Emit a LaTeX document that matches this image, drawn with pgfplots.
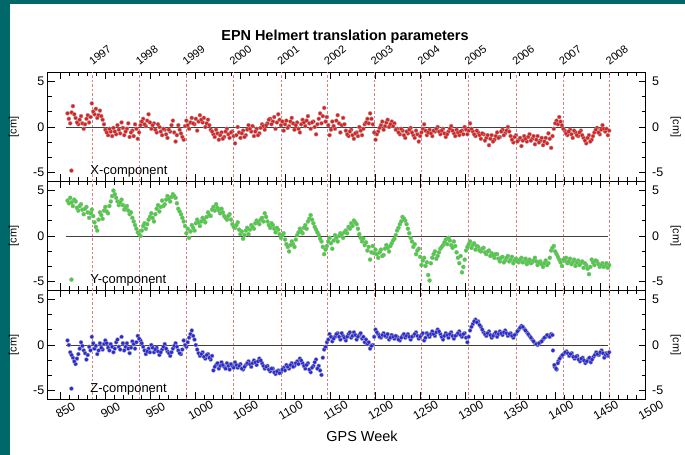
\documentclass[border=0pt]{standalone}
\usepackage{pgfplots}
\usepackage{pgfplotstable}
\pgfplotsset{compat=1.18}
\usepackage{fontspec}
\setmainfont{Liberation Sans}
\definecolor{frameteal}{RGB}{0,104,104}
\definecolor{ptred}{RGB}{228,30,30}
\definecolor{ptgreen}{RGB}{60,215,50}
\definecolor{ptblue}{RGB}{40,40,225}
\definecolor{yeardash}{RGB}{215,130,130}

% w = GPS week, v = value at w, u = value at w+1.5
\pgfplotstableread{
w v u
858 1.5 0.9
861 0.4 1.6
864 2.3 1.4
867 1.0 0.5
870 0.3 0.8
873 1.2 0.4
876 -0.2 0.3
879 0.9 1.3
882 0.5 1.1
885 2.6 1.7
888 1.4 2.0
891 1.0 1.3
894 1.8 1.2
897 0.8 0.3
900 -0.3 -0.6
903 -0.9 -0.2
906 -0.5 -1.0
909 -0.1 -0.5
912 -0.8 0.2
915 -0.3 -0.7
918 0.5 -0.1
921 -0.9 -0.5
924 -0.2 0.4
927 -1.1 -0.6
930 -0.4 -1.0
933 0.3 -0.2
936 -1.3 -0.6
939 0.2 0.6
942 0.9 0.3
945 0.1 0.7
948 1.4 0.5
951 -0.2 0.2
954 0.4 -0.3
957 -0.6 0.3
960 0.0 -0.5
963 -0.9 -0.2
966 -0.3 -0.8
969 -1.2 -0.3
972 -0.5 0.2
975 0.7 -0.6
978 -1.6 -0.9
981 0.2 -0.3
984 -0.7 -1.1
987 -1.4 0.1
990 0.7 0.2
993 -0.2 0.5
996 1.0 0.4
999 0.3 0.9
1002 -0.4 0.6
1005 1.3 0.8
1008 0.5 1.0
1011 0.0 0.4
1014 0.8 0.2
1017 -0.3 -0.5
1020 -0.8 -1.1
1023 -0.3 -0.7
1026 -1.4 -0.9
1029 -0.6 -1.3
1032 -1.1 -0.5
1035 -0.2 -0.8
1038 -1.2 -0.6
1041 -0.5 -1.0
1044 -1.8 -0.9
1047 0.0 -0.6
1050 -1.2 -0.7
1053 -0.4 -1.1
1056 -0.9 -0.3
1059 0.2 -0.2
1062 -0.5 0.1
1065 -1.0 -0.5
1068 -0.2 -0.9
1071 -0.7 -0.1
1074 0.3 0.1
1077 -0.3 0.2
1080 0.4 0.8
1083 0.9 0.3
1086 0.6 1.1
1089 -0.2 0.5
1092 1.4 0.8
1095 0.2 0.6
1098 -0.4 0.3
1101 0.7 -0.1
1104 0.1 0.6
1107 1.0 0.4
1110 -0.3 0.2
1113 0.5 -0.2
1116 -0.6 0.3
1119 0.8 0.5
1122 0.1 0.7
1125 1.2 0.4
1128 -0.2 0.5
1131 0.6 0.0
1134 -0.8 0.3
1137 0.9 1.5
1140 0.4 1.2
1143 2.1 0.6
1146 1.1 0.2
1149 -0.9 -0.3
1152 0.6 0.1
1155 -0.2 0.7
1158 1.3 0.4
1161 -0.6 0.2
1164 1.0 0.3
1167 -0.4 -0.8
1170 -1.0 -0.5
1173 -0.3 -0.9
1176 -1.3 -0.7
1179 -0.6 -1.0
1182 0.0 -0.4
1185 -0.9 -0.2
1188 0.3 0.5
1191 0.9 0.4
1194 1.5 0.9
1197 0.3 -0.6
1200 -1.4 -0.8
1203 -0.5 -0.1
1206 0.2 0.6
1209 -0.3 0.1
1212 0.5 0.8
1215 0.0 0.3
1218 0.6 0.1
1221 0.4 -0.3
1224 -0.2 -0.6
1227 -0.8 -0.2
1230 -0.4 -0.9
1233 -1.2 -0.5
1236 -0.7 -0.3
1239 -0.1 -0.6
1242 -0.9 -1.2
1245 -0.4 -0.8
1248 -1.6 -1.0
1251 -0.6 -0.2
1254 0.3 -0.4
1257 -0.9 -0.6
1260 -0.3 -0.7
1263 -1.0 -0.4
1266 -0.5 -0.2
1269 0.0 -0.5
1272 -0.8 -0.4
1275 -0.2 -0.7
1278 -1.1 -0.8
1281 -0.5 -0.2
1284 0.1 -0.4
1287 -0.7 -1.0
1290 -0.3 -0.6
1293 -0.9 -0.5
1296 -0.4 -0.8
1299 0.0 -0.3
1302 -0.8 -0.4
1305 0.4 -0.2
1308 -0.5 -0.8
1311 -1.0 -0.4
1314 -0.6 -0.9
1317 -1.3 -0.7
1320 -0.8 -1.5
1323 -1.2 -0.9
1326 -2.0 -1.3
1329 -0.9 -1.6
1332 -1.4 -1.0
1335 -0.6 -1.2
1338 -1.1 -0.5
1341 -0.3 -0.9
1344 -0.7 -0.4
1347 0.0 -0.5
1350 -1.0 -1.4
1353 -1.7 -1.1
1356 -0.9 -1.6
1359 -1.4 -1.2
1362 -2.1 -1.5
1365 -1.0 -1.3
1368 -1.6 -1.1
1371 -0.8 -1.5
1374 -1.3 -1.0
1377 -1.9 -1.4
1380 -1.0 -1.7
1383 -1.5 -1.2
1386 -2.0 -1.6
1389 -1.2 -1.8
1392 -0.7 -1.3
1395 -2.3 -1.0
1398 -0.2 0.4
1401 0.7 0.3
1404 1.1 0.6
1407 0.2 -0.2
1410 -0.4 -0.7
1413 -0.9 -0.5
1416 -0.3 -0.8
1419 -1.2 -0.4
1422 -0.6 -0.9
1425 -1.0 -0.6
1428 -0.4 -0.9
1431 -1.2 -1.5
1434 -1.8 -1.2
1437 -0.9 -1.6
1440 -1.4 -1.0
1443 -0.6 -0.3
1446 -0.1 -0.6
1449 -0.8 -0.3
1452 0.2 -0.2
1455 -0.5 -0.2
1458 -0.9 -0.4
}\xdata

\pgfplotstableread{
w v u
858 3.9 3.6
861 4.2 3.7
864 3.3 4.0
867 3.8 3.1
870 2.8 3.3
873 3.5 2.9
876 2.4 3.0
879 3.2 2.6
882 2.0 2.5
885 2.9 2.2
888 1.5 1.0
891 0.6 1.8
894 2.6 2.3
897 1.9 2.8
900 3.2 2.7
903 2.5 3.3
906 3.8 4.4
909 5.0 4.6
912 4.2 3.8
915 3.4 3.7
918 4.0 3.4
921 2.9 3.1
924 3.3 2.8
927 2.4 2.6
930 2.0 1.6
933 1.2 0.8
936 0.4 0.2
939 0.0 0.6
942 1.1 1.4
945 0.8 1.3
948 1.8 2.1
951 2.5 2.0
954 1.6 2.4
957 3.0 3.4
960 2.7 3.2
963 3.9 3.3
966 3.5 4.0
969 4.4 4.1
972 3.8 4.3
975 4.6 4.4
978 4.2 3.6
981 3.0 2.7
984 2.4 2.0
987 1.6 1.1
990 0.3 0.8
993 -0.2 0.5
996 1.2 0.9
999 0.6 1.4
1002 1.8 1.5
1005 1.1 1.6
1008 2.0 1.8
1011 1.5 2.1
1014 2.6 2.3
1017 2.2 2.9
1020 3.2 2.8
1023 3.5 3.1
1026 2.8 2.5
1029 3.0 2.6
1032 2.2 2.0
1035 1.8 2.2
1038 2.4 1.8
1041 1.3 1.0
1044 0.9 1.2
1047 1.5 0.7
1050 0.2 0.5
1053 -0.3 0.1
1056 0.6 0.9
1059 0.2 0.7
1062 1.2 1.0
1065 0.8 1.4
1068 1.7 1.5
1071 1.3 1.8
1074 2.0 1.6
1077 2.5 2.1
1080 1.6 1.2
1083 0.9 1.4
1086 1.2 0.8
1089 0.4 0.9
1092 0.7 0.2
1095 -0.2 0.1
1098 0.3 -0.4
1101 -0.9 -1.2
1104 -1.7 -1.0
1107 -0.6 -0.9
1110 -1.2 -0.4
1113 0.1 0.4
1116 0.8 0.5
1119 0.3 0.9
1122 1.2 0.8
1125 1.6 1.9
1128 2.3 1.8
1131 1.4 1.0
1134 0.7 0.4
1137 0.1 -0.3
1140 -0.6 -1.2
1143 -2.0 -1.5
1146 -1.1 -0.6
1149 -0.2 -0.8
1152 -1.4 -0.5
1155 0.1 -0.2
1158 -0.6 0.0
1161 0.3 0.2
1164 -0.2 0.4
1167 0.6 0.3
1170 1.0 0.8
1173 1.4 1.1
1176 1.7 1.5
1179 1.3 0.8
1182 0.2 -0.2
1185 -0.6 -0.3
1188 -1.0 -0.7
1191 -1.6 -1.2
1194 -2.6 -1.8
1197 -1.1 -1.9
1200 -1.5 -2.0
1203 -2.4 -1.8
1206 -1.5 -2.2
1209 -2.1 -1.4
1212 -1.0 -1.3
1215 -1.7 -1.1
1218 -0.8 -0.5
1221 -0.3 0.1
1224 0.6 0.9
1227 1.3 1.6
1230 2.1 1.9
1233 1.7 1.3
1236 0.8 0.3
1239 -0.2 -0.6
1242 -1.2 -0.9
1245 -2.0 -1.6
1248 -1.4 -2.3
1251 -3.2 -2.7
1254 -2.4 -3.3
1257 -2.9 -4.3
1260 -4.9 -3.0
1263 -2.4 -2.0
1266 -1.7 -2.5
1269 -2.2 -1.8
1272 -1.4 -1.2
1275 -1.0 -0.7
1278 -0.4 -0.9
1281 -0.2 -0.5
1284 -1.0 -1.3
1287 -0.6 -1.1
1290 -1.8 -2.4
1293 -3.0 -2.2
1296 -4.0 -3.4
1299 -2.6 -1.6
1302 -1.2 -0.9
1305 -0.6 -1.3
1308 -1.0 -0.8
1311 -1.5 -1.1
1314 -1.2 -1.6
1317 -1.7 -1.4
1320 -1.3 -1.8
1323 -2.0 -1.7
1326 -1.6 -2.2
1329 -1.9 -2.1
1332 -2.4 -2.0
1335 -2.0 -2.5
1338 -2.8 -2.4
1341 -2.3 -2.9
1344 -2.7 -2.4
1347 -2.2 -2.8
1350 -2.6 -2.3
1353 -3.0 -2.7
1356 -2.5 -2.8
1359 -2.9 -2.6
1362 -2.4 -2.9
1365 -2.8 -2.5
1368 -3.1 -2.8
1371 -2.6 -3.0
1374 -2.9 -2.7
1377 -2.4 -2.8
1380 -3.2 -2.9
1383 -2.8 -3.1
1386 -3.4 -3.0
1389 -2.7 -3.2
1392 -3.0 -2.4
1395 -1.6 -1.3
1398 -1.1 -1.7
1401 -2.0 -2.3
1404 -2.6 -2.9
1407 -3.3 -2.6
1410 -2.7 -2.4
1413 -3.0 -2.8
1416 -2.5 -3.1
1419 -2.9 -2.6
1422 -3.3 -2.9
1425 -2.7 -3.2
1428 -3.0 -2.8
1431 -3.5 -3.0
1434 -3.2 -3.6
1437 -4.2 -3.4
1440 -2.6 -2.9
1443 -3.2 -2.7
1446 -2.8 -3.1
1449 -3.4 -3.2
1452 -3.0 -3.4
1455 -3.3 -3.0
1458 -3.5 -3.2
}\ydata

\pgfplotstableread{
w v u
858 0.5 0.0
861 -0.8 -1.1
864 -1.4 -1.8
867 -2.1 -1.5
870 -1.0 -0.4
873 0.3 -0.1
876 -0.6 -0.9
879 -1.6 -1.1
882 -0.2 -0.6
885 0.9 0.2
888 -0.4 -0.1
891 -1.0 -0.6
894 0.2 -0.3
897 -0.5 0.1
900 0.5 0.2
903 -0.3 -0.6
906 0.1 -0.2
909 -0.8 -0.4
912 0.3 0.6
915 -0.2 -0.5
918 0.9 0.2
921 -0.6 -0.2
924 0.2 -0.4
927 -0.9 -0.3
930 0.4 0.1
933 -0.4 0.3
936 1.0 0.7
939 0.5 0.2
942 -0.2 -0.6
945 -1.0 -0.7
948 -0.4 -0.8
951 0.0 -0.3
954 -0.8 -0.5
957 -0.3 -0.7
960 -1.1 -0.8
963 -0.5 -0.2
966 0.1 -0.4
969 -0.7 -0.9
972 -1.2 -0.8
975 -0.4 -0.1
978 0.2 -0.2
981 -0.6 -0.9
984 -1.0 -0.5
987 0.5 0.0
990 -0.2 0.3
993 0.8 1.2
996 1.6 1.0
999 0.6 0.0
1002 -0.5 -0.9
1005 -1.2 -1.0
1008 -0.8 -1.3
1011 -1.5 -1.1
1014 -1.0 -1.4
1017 -1.6 -1.2
1020 -2.8 -2.4
1023 -2.2 -2.0
1026 -2.6 -2.3
1029 -1.9 -2.2
1032 -2.4 -2.6
1035 -2.0 -2.3
1038 -2.7 -2.1
1041 -2.3 -2.5
1044 -1.9 -2.2
1047 -2.5 -2.3
1050 -2.1 -2.6
1053 -2.7 -2.4
1056 -2.2 -2.0
1059 -1.8 -2.1
1062 -2.4 -2.0
1065 -1.7 -1.9
1068 -2.2 -1.8
1071 -1.5 -1.7
1074 -2.0 -2.3
1077 -2.6 -2.4
1080 -2.3 -2.7
1083 -2.9 -2.6
1086 -2.6 -3.0
1089 -3.2 -2.9
1092 -2.8 -3.1
1095 -3.0 -2.7
1098 -2.5 -2.8
1101 -2.2 -2.4
1104 -2.6 -2.2
1107 -2.0 -2.4
1110 -2.3 -2.0
1113 -1.8 -2.1
1116 -1.5 -1.7
1119 -2.0 -2.3
1122 -2.6 -2.2
1125 -2.0 -2.7
1128 -3.0 -2.5
1131 -2.3 -1.9
1134 -1.6 -2.6
1137 -2.3 -2.8
1140 -3.3 -1.4
1143 -0.5 -0.2
1146 0.3 0.6
1149 1.2 0.9
1152 0.4 0.7
1155 0.9 1.2
1158 1.3 0.9
1161 0.6 1.3
1164 1.0 0.8
1167 0.5 0.9
1170 1.2 1.4
1173 0.8 1.0
1176 1.4 1.1
1179 0.6 0.9
1182 1.1 1.3
1185 0.7 0.9
1188 0.3 0.6
1191 0.1 0.3
1194 -0.4 -0.1
1197 0.0 0.9
1200 1.7 1.4
1203 1.2 0.9
1206 0.8 1.1
1209 1.3 1.0
1212 0.9 1.2
1215 0.6 0.8
1218 1.1 0.9
1221 0.7 1.0
1224 0.9 0.6
1227 0.5 0.8
1230 1.0 1.2
1233 0.8 1.0
1236 1.2 0.9
1239 0.6 0.9
1242 1.0 1.2
1245 1.4 1.0
1248 0.7 0.9
1251 1.1 1.3
1254 0.5 0.8
1257 1.3 1.1
1260 0.9 1.2
1263 1.5 1.2
1266 1.0 1.4
1269 1.7 1.5
1272 1.2 0.9
1275 0.6 1.0
1278 1.3 1.1
1281 0.8 1.2
1284 1.4 1.0
1287 0.7 1.0
1290 1.1 1.3
1293 1.5 1.1
1296 0.9 1.2
1299 1.3 0.8
1302 0.3 0.9
1305 1.6 2.0
1308 2.3 2.6
1311 2.8 2.5
1314 2.6 2.2
1317 2.0 1.7
1320 1.4 1.2
1323 1.0 1.3
1326 1.5 1.1
1329 0.8 1.0
1332 1.2 1.4
1335 0.9 1.2
1338 1.5 1.3
1341 1.1 1.4
1344 1.6 1.3
1347 1.0 1.2
1350 1.3 1.0
1353 0.8 1.1
1356 1.2 1.5
1359 1.7 1.9
1362 2.1 2.0
1365 1.8 1.6
1368 1.4 1.2
1371 1.0 0.8
1374 0.6 0.4
1377 0.2 0.1
1380 0.0 0.2
1383 0.3 0.4
1386 0.6 0.8
1389 0.9 1.1
1392 1.0 0.9
1395 1.2 1.1
1397 -0.6 -2.2
1399 -2.4 -2.6
1401 -2.7 -2.0
1403 -1.8 -1.5
1406 -1.3 -1.1
1409 -1.0 -0.8
1412 -0.7 -0.9
1415 -1.2 -1.0
1418 -0.9 -1.3
1421 -1.5 -1.3
1424 -1.2 -1.6
1427 -1.8 -1.5
1430 -1.4 -1.7
1433 -2.0 -1.8
1436 -1.6 -1.4
1439 -1.9 -1.6
1442 -1.3 -1.1
1445 -0.8 -1.0
1448 -1.1 -0.8
1451 -0.6 -0.9
1454 -1.4 -1.1
1456 -0.9 -1.0
1458 -1.2 -0.8
}\zdata

\pgfplotsset{
  panel/.style={
    scale only axis, width=598bp, height=109bp,
    xmin=836, xmax=1500, ymin=-6, ymax=6,
    xtick={850,900,...,1500}, minor x tick num=4,
    ytick={-5,0,5}, minor y tick num=2,
    tick align=inside,
    major tick length=7bp, minor tick length=4bp,
    every tick/.style={black, line width=0.8bp},
    axis line style={black, line width=1.1bp},
    /pgf/number format/assume math mode=true,
    /pgf/number format/1000 sep={},
    yticklabel style={font=\fontsize{12.5}{14}\selectfont},
    clip=false,
    legend style={draw=none, fill=none, inner sep=0pt,
      font=\fontsize{13}{15}\selectfont, anchor=west},
    legend image code/.code={\path[draw=none] (0bp,0bp) -- (17bp,0bp); \path[##1, draw=none] plot coordinates {(0bp,0bp)};},
  },
  dots/.style={only marks, mark=*, mark size=2bp,
    mark options={draw=black!35, line width=0.35bp, fill=#1}},
}

\newcommand{\yeardashes}{%
  \pgfplotsinvokeforeach{886,938,990,1042,1095,1147,1199,1251,1303,1356,1408,1460}{%
    \draw[yeardash, line width=0.6bp, dash pattern=on 2.5bp off 2bp] (axis cs:##1,-6) -- (axis cs:##1,6);}%
  \addplot[black!75, line width=0.8bp, no marks, forget plot] coordinates {(856,0) (1458,0)};
}
\newcommand{\rightlabels}{%
  \node[anchor=west, font=\fontsize{12.5}{14}\selectfont] at ([xshift=3bp]rel axis cs:1,0.9167) {5};
  \node[anchor=west, font=\fontsize{12.5}{14}\selectfont] at ([xshift=3bp]rel axis cs:1,0.5) {0};
  \node[anchor=west, font=\fontsize{12.5}{14}\selectfont] at ([xshift=3bp]rel axis cs:1,0.0833) {-5};
  \node[rotate=90, font=\fontsize{11}{12}\selectfont] at ([xshift=-34bp]rel axis cs:0,0.5) {[cm]};
  \node[rotate=-90, font=\fontsize{11}{12}\selectfont] at ([xshift=30bp]rel axis cs:1,0.5) {[cm]};
}

\begin{document}
\begin{tikzpicture}
\fill[frameteal] (0bp,0bp) rectangle (685bp,455bp);
\fill[white] (10bp,0bp) rectangle (685bp,451bp);
\path[use as bounding box] (0bp,0bp) rectangle (685bp,455bp);

\node[font=\bfseries\fontsize{14.5}{17}\selectfont] at (345bp,418bp) {EPN Helmert translation parameters};
\node[font=\fontsize{14.5}{17}\selectfont] at (362bp,19bp) {GPS Week};

% year axis on top
\begin{axis}[scale only axis, width=598bp, height=109bp,
  at={(47.7bp,382.5bp)}, anchor=north west,
  xmin=836, xmax=1500, ymin=-6, ymax=6,
  axis x line*=top, axis y line=none,
  xtick={886,938,990,1042,1095,1147,1199,1251,1303,1356,1408,1460},
  xticklabels={1997,1998,1999,2000,2001,2002,2003,2004,2005,2006,2007,2008},
  major tick length=0pt,
  axis line style={draw=none},
  xticklabel style={rotate=38, anchor=south west, inner sep=1bp, yshift=4bp, xshift=3bp,
    font=\fontsize{11}{13}\selectfont},
  /pgf/number format/assume math mode=true]
\addplot[draw=none, forget plot] coordinates {(900,0)};
\end{axis}

% X panel
\begin{axis}[panel, at={(47.7bp,382.5bp)}, anchor=north west,
  xticklabels={}, legend style={at={(rel axis cs:0.036,0.10)}}]
\yeardashes
\addplot[dots=ptred] table[x=w,y=v] {\xdata};
\addlegendentry{X-component}
\addplot[dots=ptred, forget plot] table[x expr=\thisrow{w}+1.5,y=u] {\xdata};
\rightlabels
\end{axis}

% Y panel
\begin{axis}[panel, at={(47.7bp,273.5bp)}, anchor=north west,
  xticklabels={}, legend style={at={(rel axis cs:0.036,0.10)}}]
\yeardashes
\addplot[dots=ptgreen] table[x=w,y=v] {\ydata};
\addlegendentry{Y-component}
\addplot[dots=ptgreen, forget plot] table[x expr=\thisrow{w}+1.5,y=u] {\ydata};
\rightlabels
\end{axis}

% Z panel
\begin{axis}[panel, at={(47.7bp,164.5bp)}, anchor=north west,
  xticklabel style={rotate=30, anchor=center, yshift=-12bp, xshift=-1bp,
    font=\fontsize{12}{14}\selectfont},
  legend style={at={(rel axis cs:0.036,0.10)}}]
\yeardashes
\addplot[dots=ptblue] table[x=w,y=v] {\zdata};
\addlegendentry{Z-component}
\addplot[dots=ptblue, forget plot] table[x expr=\thisrow{w}+1.5,y=u] {\zdata};
\rightlabels
\end{axis}
\end{tikzpicture}
\end{document}
